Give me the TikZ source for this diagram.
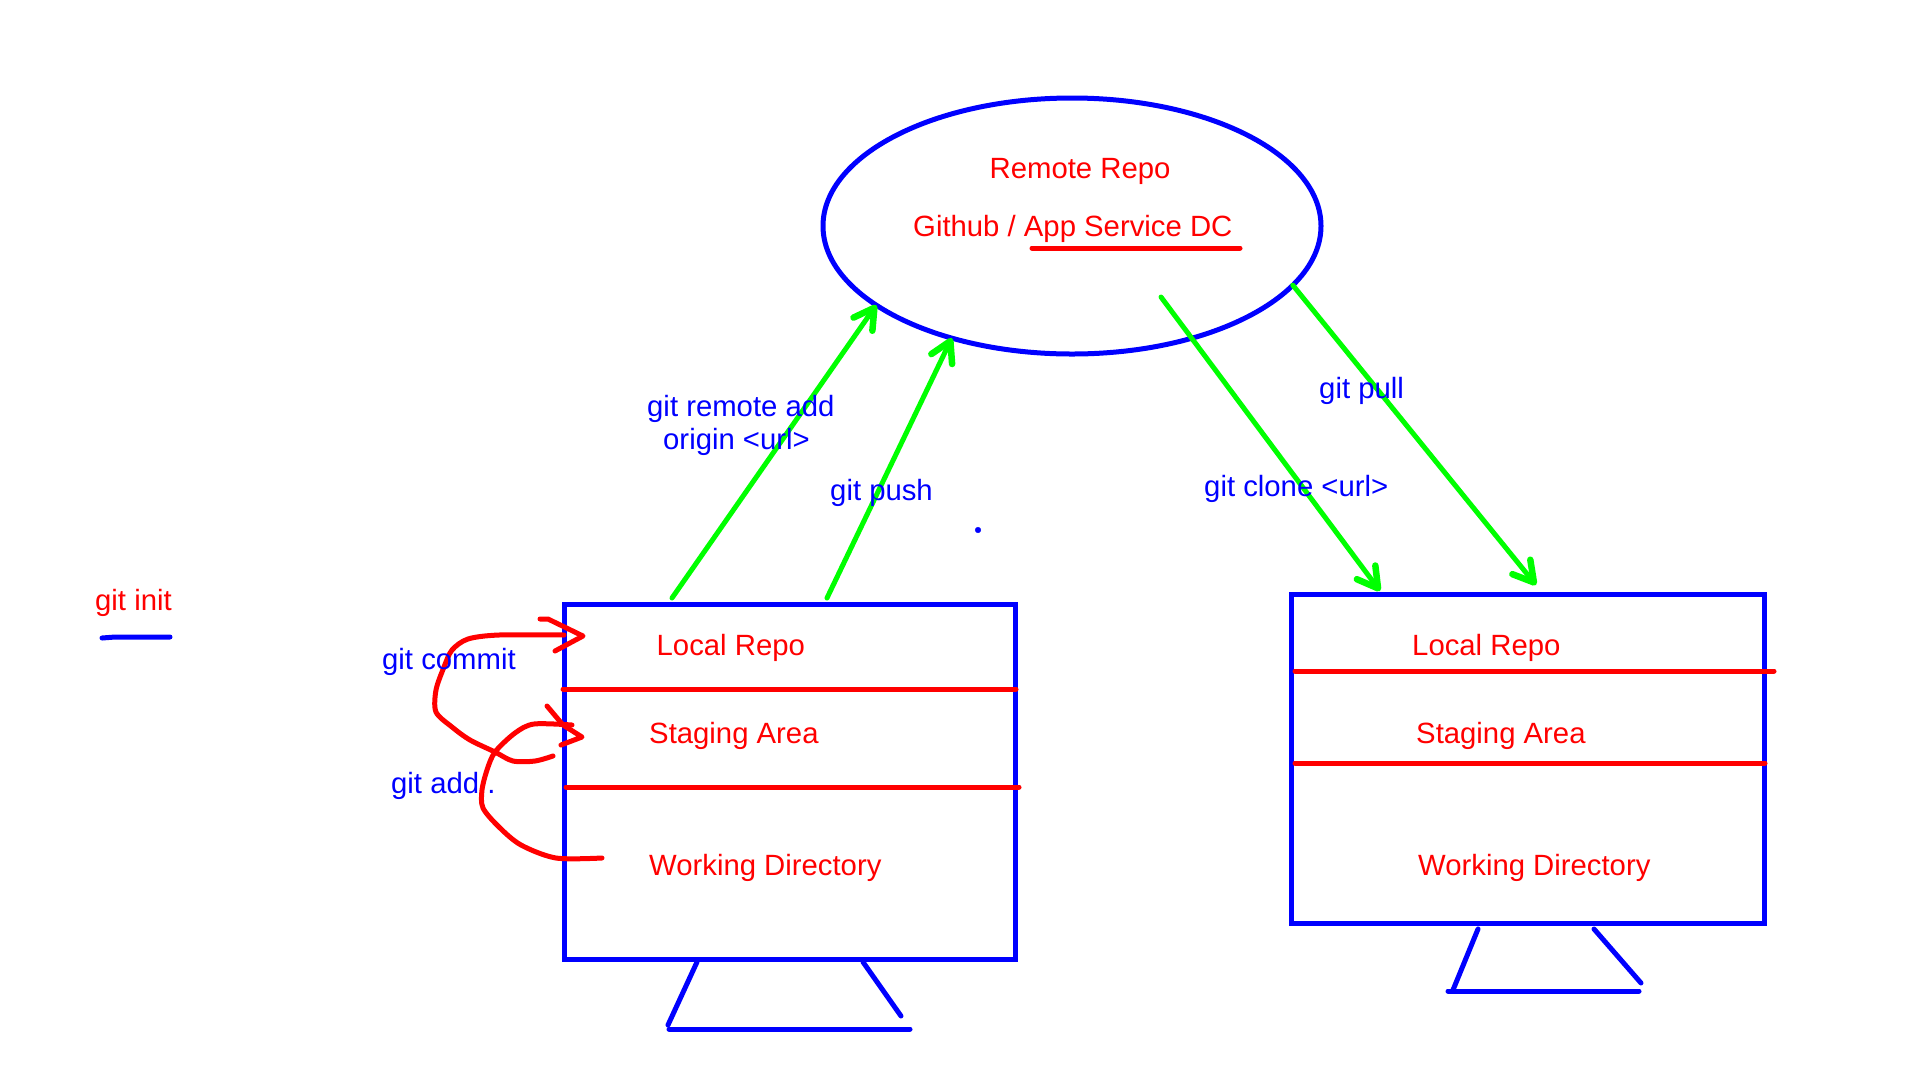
\documentclass[tikz,border=0pt]{standalone}
\usepackage{fontspec}
\setmainfont{Liberation Sans}
\usetikzlibrary{arrows.meta,shapes.geometric}
\def \lineSize {5pt}
\def \dotSize {2.8pt}
\tikzset{
   bluetext/.style={text=blue, anchor=base west, inner sep=0pt, font=\fontsize{29.3}{32}\selectfont},
   redtext/.style={text=red, anchor=base west, inner sep=0pt, font=\fontsize{29.3}{32}\selectfont},
   blueline/.style={draw=blue, line width=\lineSize, line cap=round, line join=round},
   redline/.style={draw=red, line width=\lineSize, line cap=round, line join=round},
   greenarrow/.style={draw=green, line width=\lineSize, line cap=round, -{Straight Barb[round, length=20pt, width=23pt, line width=6.5pt]}},
   screenbox/.style={draw=blue, line width=\lineSize, rectangle, inner sep=0pt, outer sep=0pt}
}
\begin{document}
\begin{tikzpicture}[x=1pt, y=-1pt]
   \useasboundingbox (0,0) rectangle (1920,1080);

   \node[ellipse, draw=blue, line width=\lineSize, inner sep=0pt, outer sep=0pt, minimum width=498pt, minimum height=256pt] (remote) at (1072,226) {};
   \node[screenbox, minimum width=451pt, minimum height=355pt] (leftbox) at (790,781.5) {};
   \node[screenbox, minimum width=473pt, minimum height=329.5pt] (rightbox) at (1527.5,759) {};

   \coordinate (addstart) at (672,598);
   \coordinate (pushstart) at (827,598);
   \coordinate (clonestart) at (1161,297);
   \coordinate (cloneend) at (1380,591);
   \coordinate (pullend) at (1536,585);
   \draw[greenarrow] (addstart) -- (remote.202);
   \draw[greenarrow] (pushstart) -- (remote.223);
   \draw[greenarrow] (clonestart) -- (cloneend);
   \draw[greenarrow] (remote.345) -- (pullend);

   \draw[redline] (1032,248) -- (1240,248);
   \draw[redline] (563,689) -- (1016,689);
   \draw[redline] (566,787) -- (1019,787);
   \draw[redline] (1295,671) -- (1774,671);
   \draw[redline] (1295,763) -- (1765,763);

   \draw[blueline] (697,962) -- (668,1025);
   \draw[blueline] (863,962) -- (901,1016);
   \draw[blueline] (669,1029) -- (910,1029);
   \draw[blueline] (1478,929) -- (1453,990);
   \draw[blueline] (1594,929) -- (1641,983);
   \draw[blueline] (1448,991) -- (1639,991);
   \draw[blueline] (102,638) -- (115,637) -- (170,637);
   \filldraw[blue] (978,530) circle (\dotSize);

   \draw[redline] plot[smooth, tension=0.5] coordinates {(553,756) (535,761) (513,761) (495,752) (470,740) (452,727) (436,712) (436,690) (444,667) (452,650) (468,639) (499,635) (564,635)};
   \draw[redline] (540,619) -- (548,619) -- (583,636) -- (555,651);
   \draw[redline] plot[smooth, tension=0.5] coordinates {(602,858) (556,858) (521,845) (499,827) (483,808) (482,790) (487,770) (495,752) (515,733) (534,724) (572,725)};
   \draw[redline] (547,706) -- (563,725) -- (582,737) -- (561,745);

   \node[redtext] (remotename) at (989.5,178) {Remote Repo};
   \node[redtext] (remotehost) at (913,236) {Github / App Service DC};
   \node[redtext] (gitinit) at (95,610) {git init};
   \node[redtext] (leftlocal) at (656.5,655) {Local Repo};
   \node[redtext] (leftstaging) at (649,743) {Staging Area};
   \node[redtext] (leftworking) at (649,875) {Working Directory};
   \node[redtext] (rightlocal) at (1412,655) {Local Repo};
   \node[redtext] (rightstaging) at (1416,743) {Staging Area};
   \node[redtext] (rightworking) at (1418,875) {Working Directory};
   \node[bluetext] (remoteadd) at (647,416) {git remote add};
   \node[bluetext] (originurl) at (663,449) {origin <url>};
   \node[bluetext] (gitpush) at (830,500) {git push};
   \node[bluetext] (gitclone) at (1204,496) {git clone <url>};
   \node[bluetext] (gitpull) at (1319,398) {git pull};
   \node[bluetext] (gitcommit) at (382,669) {git commit};
   \node[bluetext] (gitadd) at (391,793) {git add .};
\end{tikzpicture}
\end{document}
